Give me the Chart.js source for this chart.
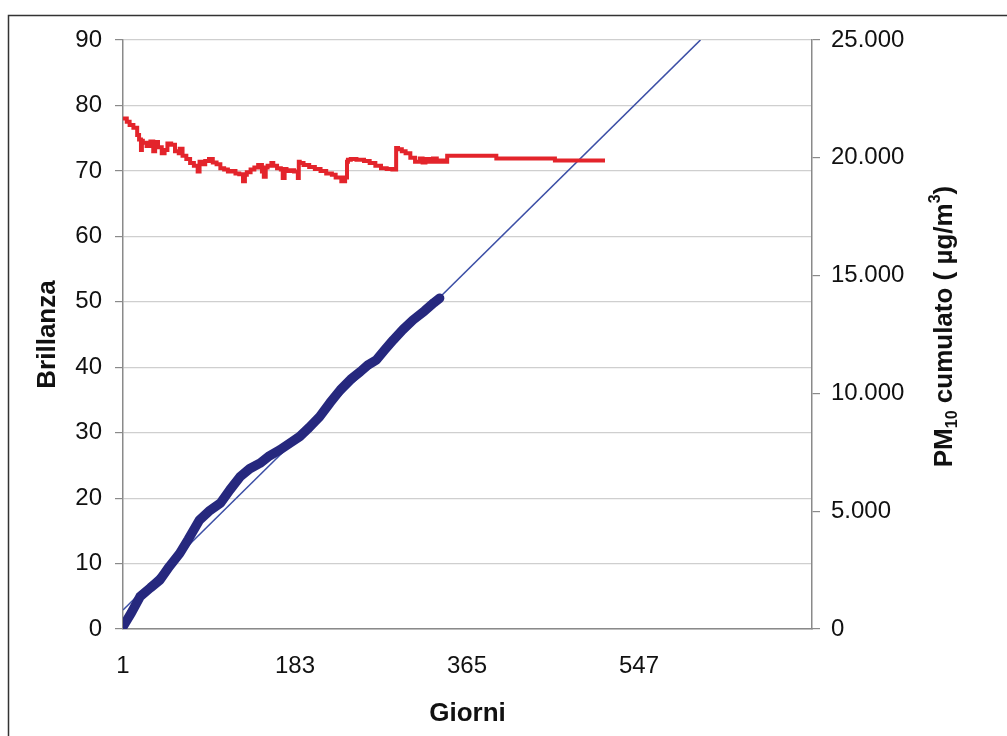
<!DOCTYPE html>
<html>
<head>
<meta charset="utf-8">
<title>Brillanza / PM10 cumulato</title>
<script src="https://cdn.jsdelivr.net/npm/chart.js@4.4.1/dist/chart.umd.min.js"></script>
<style>
  body { margin: 0; background: #fff; }
  canvas { display: block; }
</style>
</head>
<body>
<canvas id="myChart" width="1007" height="736"></canvas>
<script>
// --- data --- //
let xTicks = [1, 183, 365, 547];

// Brillanza (left axis)
let brilDays = [1, 5, 8, 12, 16, 18, 20, 21, 22, 26, 30, 33, 35, 38, 42, 45, 48, 52, 56, 60,
  61, 64, 68, 72, 76, 80, 82, 84, 88, 92, 96, 100, 104, 108, 112, 116, 120, 124, 128, 130,
  132, 136, 140, 144, 148, 150, 152, 154, 158, 160, 164, 168, 170, 172, 174, 178, 182, 186, 187, 188,
  192, 198, 204, 210, 216, 222, 226, 232, 236, 238, 239, 242, 248, 256, 262, 268, 274, 280, 286, 290,
  292, 296, 300, 305, 310, 315, 318, 321, 325, 329, 333, 337, 341, 344, 347, 396, 397, 458, 459, 511];
let brilValues = [78.2, 78.0, 77.5, 77.0, 76.6, 75.5, 74.8, 73.2, 74.6, 74.3, 73.8, 74.5, 73.0, 74.4, 73.6, 72.7, 73.2, 74.2, 74.0, 73.0,
  72.7, 73.4, 72.3, 71.8, 71.2, 70.8, 69.9, 71.4, 71.0, 71.5, 71.8, 71.3, 71.0, 70.4, 70.2, 69.9, 70.0, 69.6, 69.5, 68.4,
  69.4, 69.8, 70.2, 70.5, 70.9, 69.9, 69.1, 70.5, 70.8, 71.2, 70.8, 70.4, 70.2, 68.9, 70.3, 70.0, 70.1, 69.9, 68.9, 71.4,
  71.2, 70.9, 70.6, 70.3, 70.0, 69.6, 69.4, 69.0, 68.4, 69.0, 71.4, 71.7, 71.8, 71.7, 71.5, 71.2, 70.8, 70.4, 70.3, 70.2,
  73.5, 73.3, 73.0, 72.7, 72.0, 71.4, 71.9, 71.3, 71.8, 71.4, 71.9, 71.4, 71.6, 71.4, 72.3, 72.3, 71.9, 71.9, 71.6, 71.6];

// PM10 cumulato (right axis)
let pmDays = [1, 10, 19, 30, 40, 50, 61, 70, 82, 92, 104, 114, 125, 135, 146, 156, 167,
  178, 188, 198, 209, 220, 231, 242, 252, 260, 269, 278, 287, 297, 308, 320, 330, 336];
let pmValues = [100, 700, 1370, 1750, 2080, 2650, 3210, 3800, 4630, 5000, 5340, 5900, 6470, 6800, 7040, 7350, 7600,
  7900, 8170, 8550, 9010, 9600, 10150, 10600, 10920, 11200, 11420, 11850, 12270, 12700, 13120, 13500, 13850, 14040];

// linear trend of PM10 cumulato
let trendDays = [1, 612];
let trendValues = [806, 25000];

const FONT = "'Liberation Sans', Arial, sans-serif";

function toPoints(xs, ys) {
  return xs.map((x, i) => ({ x: x, y: ys[i] }));
}

function formatThousands(v) {
  return String(v).replace(/\B(?=(\d{3})+(?!\d))/g, ".");
}

// --- frame + right title --- //
const framePlugin = {
  id: "frame",
  beforeDraw(chart) {
    const ctx = chart.ctx;
    ctx.save();
    ctx.fillStyle = "#fff";
    ctx.fillRect(0, 0, chart.width, chart.height);
    ctx.strokeStyle = "#333";
    ctx.lineWidth = 1.5;
    ctx.strokeRect(8.5, 15.5, 1200, 900);
    ctx.restore();
  },
  afterDraw(chart) {
    const ctx = chart.ctx;
    const area = chart.chartArea;
    let parts = [
      { t: "PM", size: 26, dy: 0 },
      { t: "10", size: 16, dy: 5 },
      { t: " cumulato ( \u00b5g/m", size: 26, dy: 0 },
      { t: "3", size: 16, dy: -12 },
      { t: ")", size: 26, dy: 0 },
    ];
    ctx.save();
    let total = 0;
    parts.forEach((p) => {
      ctx.font = "bold " + p.size + "px " + FONT;
      p.w = ctx.measureText(p.t).width;
      total += p.w;
    });
    ctx.translate(952, (area.top + area.bottom) / 2 - 8);
    ctx.rotate(-Math.PI / 2);
    ctx.fillStyle = "#111";
    ctx.textBaseline = "alphabetic";
    let x = -total / 2;
    parts.forEach((p) => {
      ctx.font = "bold " + p.size + "px " + FONT;
      ctx.fillText(p.t, x, p.dy);
      x += p.w;
    });
    ctx.restore();
  },
};

// --- chart --- //
const ctx = document.getElementById("myChart");
let myChart = new Chart(ctx, {
  type: "line",
  data: {
    datasets: [
      {
        label: "Brillanza",
        data: toPoints(brilDays, brilValues),
        yAxisID: "y",
        borderColor: "#e3242b",
        borderWidth: 4,
        pointRadius: 0,
        stepped: "after",
      },
      {
        label: "PM10 cumulato",
        data: toPoints(pmDays, pmValues),
        yAxisID: "y1",
        borderColor: "#26287e",
        borderWidth: 9.5,
        borderCapStyle: "round",
        borderJoinStyle: "round",
        pointRadius: 0,
        tension: 0,
      },
      {
        label: "Lineare",
        data: toPoints(trendDays, trendValues),
        yAxisID: "y1",
        borderColor: "#3c4fa6",
        borderWidth: 1.6,
        pointRadius: 0,
      },
    ],
  },
  options: {
    responsive: false,
    animation: false,
    layout: { padding: { left: 8, top: 40, right: 0, bottom: 0 } },
    plugins: {
      legend: { display: false },
      tooltip: { enabled: false },
    },
    scales: {
      x: {
        type: "linear",
        min: 1,
        max: 730,
        afterBuildTicks: (s) => { s.ticks = xTicks.map((v) => ({ value: v })); },
        afterFit: (s) => { s.height = 107; },
        grid: { display: false, drawTicks: false },
        border: { color: "#8a8a8a", width: 1.5 },
        ticks: { font: { family: FONT, size: 24 }, color: "#111", padding: 23, maxRotation: 0 },
        title: {
          display: true,
          text: "Giorni",
          font: { family: FONT, size: 26, weight: "bold" },
          color: "#111",
          padding: { top: 0, bottom: 7 },
        },
      },
      y: {
        position: "left",
        min: 0,
        max: 90,
        afterFit: (s) => { s.width = 115; },
        ticks: { stepSize: 10, font: { family: FONT, size: 24 }, color: "#111", padding: 13 },
        grid: { color: "#cfcfcf", lineWidth: 1.2, tickLength: 8, tickColor: "#8a8a8a" },
        border: { color: "#8a8a8a", width: 1.5 },
        title: {
          display: true,
          text: "Brillanza",
          font: { family: FONT, size: 26, weight: "bold" },
          color: "#111",
          padding: { top: 24, bottom: 0 },
        },
      },
      y1: {
        position: "right",
        min: 0,
        max: 25000,
        afterFit: (s) => { s.width = 195; },
        ticks: {
          stepSize: 5000,
          font: { family: FONT, size: 24 },
          color: "#111",
          padding: 11,
          callback: (v) => formatThousands(v),
        },
        grid: { drawOnChartArea: false, tickLength: 8, tickColor: "#8a8a8a", lineWidth: 1.2 },
        border: { color: "#8a8a8a", width: 1.5 },
      },
    },
  },
  plugins: [framePlugin],
});
</script>
</body>
</html>
